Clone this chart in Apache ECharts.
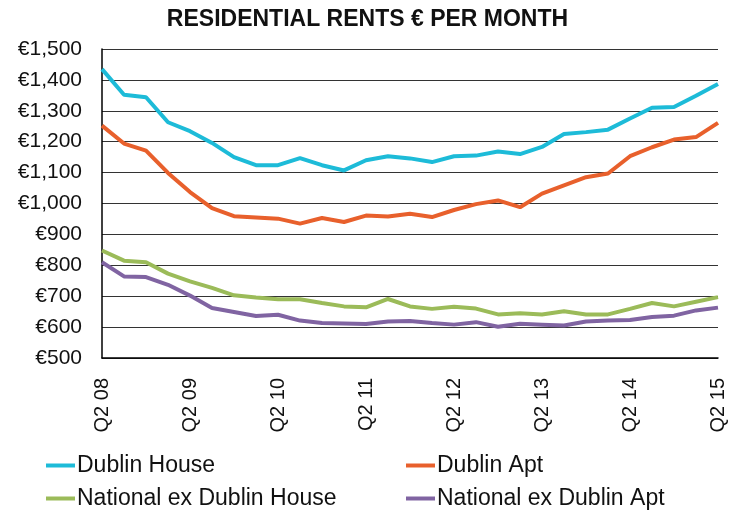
<!DOCTYPE html>
<html>
<head>
<meta charset="utf-8">
<title>Residential rents</title>
<script src="https://cdn.jsdelivr.net/npm/echarts@6/dist/echarts.min.js"></script>
<style>
  html, body { margin: 0; padding: 0; background: #fff; }
  #chart { width: 735px; height: 513px; }
</style>
</head>
<body>
<div id="chart"></div>
<script>
// quarters Q2 08 .. Q2 15
const quarters = ['Q2 08', 'Q3 08', 'Q4 08', 'Q1 09', 'Q2 09', 'Q3 09', 'Q4 09', 'Q1 10',
  'Q2 10', 'Q3 10', 'Q4 10', 'Q1 11', 'Q2 11', 'Q3 11', 'Q4 11', 'Q1 12',
  'Q2 12', 'Q3 12', 'Q4 12', 'Q1 13', 'Q2 13', 'Q3 13', 'Q4 13', 'Q1 14',
  'Q2 14', 'Q3 14', 'Q4 14', 'Q1 15', 'Q2 15']

const dublinHouse = [1435, 1352, 1344, 1263, 1234, 1196, 1150, 1124, 1124, 1147, 1124, 1107, 1140, 1153, 1146,
  1134, 1153, 1155, 1168, 1160, 1183, 1225, 1231, 1239, 1275, 1310, 1312, 1349, 1387]
const dublinApt = [1252, 1194, 1171, 1099, 1037, 985, 959, 955, 951, 935, 953, 940, 961, 958, 967,
  956, 979, 998, 1010, 988, 1032, 1059, 1085, 1097, 1153, 1182, 1207, 1215, 1261]
const nationalHouse = [848, 815, 810, 773, 748, 727, 703, 696, 690, 690, 678, 667, 664, 691, 667,
  659, 666, 660, 641, 645, 641, 651, 641, 641, 659, 678, 667, 682, 697]
const nationalApt = [810, 764, 762, 737, 702, 662, 649, 636, 640, 621, 613, 612, 610, 618, 620,
  613, 608, 616, 601, 611, 608, 605, 618, 621, 623, 633, 637, 654, 663]

const font = '"Liberation Sans", Arial, sans-serif'
const textColor = '#111'

function line(name, data, color) {
  return {
    name: name,
    type: 'line',
    data: data,
    symbol: 'none',
    smooth: false,
    lineStyle: {width: 4, color: color},
    itemStyle: {color: color},
    animation: false
  }
}

// one legend per entry, laid out 2 x 2 like the original
function legendItem(name, left, top) {
  return {
    data: [name],
    left: left,
    top: top,
    itemWidth: 29,
    itemHeight: 4,
    icon: 'rect',
    textStyle: {fontFamily: font, fontSize: 23, color: textColor, padding: [0, 0, 0, -3]}
  }
}

const chart = echarts.init(document.getElementById('chart'))
chart.setOption({
  backgroundColor: '#fff',
  title: {
    text: 'RESIDENTIAL RENTS € PER MONTH',
    left: 'center',
    top: 3,
    textStyle: {fontFamily: font, fontSize: 23, fontWeight: 'bold', color: textColor}
  },
  legend: [
    legendItem('Dublin House', 41, 449),
    legendItem('National ex Dublin House', 41, 482),
    legendItem('Dublin Apt', 401, 449),
    legendItem('National ex Dublin Apt', 401, 482)
  ],
  grid: {left: 102, right: 17, top: 49, bottom: 155},
  xAxis: {
    type: 'category',
    data: quarters,
    boundaryGap: false,
    axisLine: {lineStyle: {color: '#000', width: 1.5}},
    axisTick: {show: false},
    axisLabel: {
      interval: 3,
      rotate: 90,
      margin: 20,
      fontFamily: font,
      fontSize: 20,
      color: textColor
    }
  },
  yAxis: {
    type: 'value',
    min: 500,
    max: 1500,
    interval: 100,
    axisLine: {show: true, lineStyle: {color: '#000', width: 1.5}},
    axisTick: {show: false},
    splitLine: {lineStyle: {color: '#333', width: 1}},
    axisLabel: {
      margin: 20,
      fontFamily: font,
      fontSize: 21,
      color: textColor,
      formatter: v => '€' + v.toLocaleString('en-US')
    }
  },
  series: [
    line('Dublin House', dublinHouse, '#1DBBD8'),
    line('Dublin Apt', dublinApt, '#E8602C'),
    line('National ex Dublin House', nationalHouse, '#9BBB59'),
    line('National ex Dublin Apt', nationalApt, '#8064A2')
  ]
})
</script>
</body>
</html>
